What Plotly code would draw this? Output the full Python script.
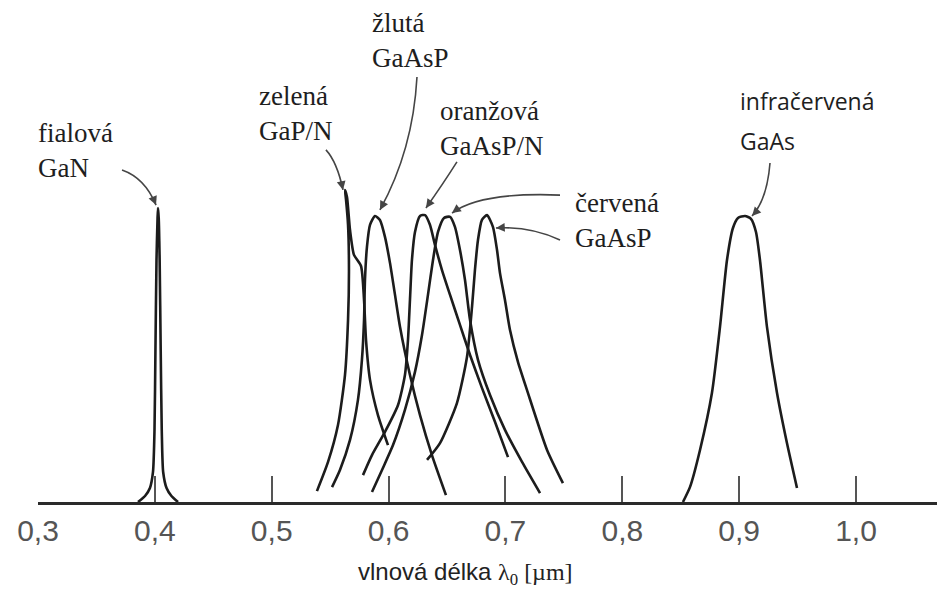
import plotly.graph_objects as go

# ---- data: wavelength (um) and relative intensity ----
tick_vals = [0.3, 0.4, 0.5, 0.6, 0.7, 0.8, 0.9, 1.0]
tick_text = ["0,3", "0,4", "0,5", "0,6", "0,7", "0,8", "0,9", "1,0"]

gan_x = [0.3856, 0.3916, 0.3958, 0.3984, 0.3997, 0.4005, 0.4014, 0.4023, 0.4027,
         0.4033, 0.4041, 0.4050, 0.4059, 0.4071, 0.4100, 0.4142, 0.4198]
gan_y = [0.000, 0.021, 0.049, 0.105, 0.252, 0.531, 0.846, 0.993, 1.028,
         0.993, 0.846, 0.531, 0.252, 0.105, 0.049, 0.021, 0.000]

gapn_x = [0.5387, 0.5482, 0.5567, 0.5627, 0.5653, 0.5661, 0.5653, 0.5636, 0.5627,
          0.5644, 0.5670, 0.5704, 0.5764, 0.5790, 0.5807, 0.5841, 0.5909, 0.5995]
gapn_y = [0.038, 0.140, 0.269, 0.444, 0.636, 0.811, 0.969, 1.056, 1.091,
          1.066, 0.951, 0.864, 0.825, 0.706, 0.566, 0.427, 0.304, 0.199]

yel_x = [0.5516, 0.5584, 0.5670, 0.5738, 0.5772, 0.5790, 0.5798, 0.5815, 0.5841, 0.5884,
         0.5926, 0.5969, 0.6012, 0.6055, 0.6098, 0.6183, 0.6269, 0.6371, 0.6491]
yel_y = [0.052, 0.112, 0.217, 0.357, 0.497, 0.636, 0.776, 0.892, 0.969, 1.000,
         0.986, 0.927, 0.836, 0.724, 0.612, 0.444, 0.304, 0.164, 0.024]

ora_x = [0.5781, 0.5858, 0.5969, 0.6081, 0.6140, 0.6166, 0.6183, 0.6200, 0.6226, 0.6269, 0.6312,
         0.6354, 0.6397, 0.6457, 0.6526, 0.6611, 0.6697, 0.6799, 0.6911, 0.7022]
ora_y = [0.094, 0.164, 0.245, 0.339, 0.444, 0.566, 0.706, 0.846, 0.944, 1.000, 1.003,
         0.969, 0.899, 0.811, 0.724, 0.619, 0.514, 0.399, 0.280, 0.157]

red1_x = [0.5858, 0.5944, 0.6038, 0.6140, 0.6226, 0.6286, 0.6337, 0.6380, 0.6423, 0.6474, 0.6526,
          0.6568, 0.6611, 0.6654, 0.6697, 0.6765, 0.6868, 0.6996, 0.7142, 0.7296]
red1_y = [0.035, 0.112, 0.199, 0.322, 0.455, 0.584, 0.724, 0.846, 0.944, 0.993, 0.997,
          0.962, 0.881, 0.776, 0.636, 0.497, 0.374, 0.252, 0.140, 0.031]

red2_x = [0.6329, 0.6440, 0.6585, 0.6671, 0.6714, 0.6739, 0.6765, 0.6799, 0.6842,
          0.6893, 0.6928, 0.6953, 0.6996, 0.7039, 0.7107, 0.7184, 0.7356, 0.7492]
red2_y = [0.147, 0.206, 0.346, 0.507, 0.682, 0.811, 0.916, 0.986, 1.003,
          0.962, 0.881, 0.801, 0.706, 0.601, 0.490, 0.392, 0.182, 0.066]

ir_x = [0.8519, 0.8579, 0.8665, 0.8767, 0.8836, 0.8896, 0.8947, 0.8990, 0.9050,
        0.9101, 0.9144, 0.9178, 0.9238, 0.9324, 0.9409, 0.9495]
ir_y = [0.000, 0.052, 0.182, 0.381, 0.612, 0.846, 0.958, 0.993, 1.000,
        0.990, 0.944, 0.846, 0.612, 0.381, 0.206, 0.049]

series = [
    ("fialová GaN", gan_x, gan_y),
    ("zelená GaP/N", gapn_x, gapn_y),
    ("žlutá GaAsP", yel_x, yel_y),
    ("oranžová GaAsP/N", ora_x, ora_y),
    ("červená GaAsP (1)", red1_x, red1_y),
    ("červená GaAsP (2)", red2_x, red2_y),
    ("infračervená GaAs", ir_x, ir_y),
]

LINE = "#1c1c1c"
ARROW = "#454545"
SERIF = "Liberation Serif"
SANS = "Liberation Sans"
OSANS = "Open Sans"

fig = go.Figure()
for name, xs, ys in series:
    fig.add_trace(go.Scatter(
        x=xs, y=ys, mode="lines", name=name, showlegend=False,
        line=dict(color=LINE, width=2.6, shape="spline", smoothing=0.6),
        hoverinfo="skip"))

# ---- labels (text, x, y, xshift, font family, size) ----
labels = [
    ("fialová<br>GaN", 0.3, 1.350, -2, SERIF, 27),
    ("zelená<br>GaP/N", 0.4874, 1.480, 0, SERIF, 27),
    ("žlutá<br>GaAsP", 0.5841, 1.734, 0, SERIF, 27),
    ("oranžová<br>GaAsP/N", 0.6423, 1.427, 0, SERIF, 27),
    ("červená<br>GaAsP", 0.7578, 1.105, 0, SERIF, 27),
    ("infračervená", 0.8990, 1.465, 0, OSANS, 23),
    ("GaAs", 0.8990, 1.325, 0, OSANS, 23),
]
for txt, x, y, xs, fam, size in labels:
    fig.add_annotation(x=x, y=y, xref="x", yref="y", xshift=xs, text=txt, showarrow=False,
                       xanchor="left", yanchor="top", align="left",
                       font=dict(family=fam, size=size, color="#1e1e1e"))

# ---- curved arrows: (start, control, tip, head offset px) ----
arrows = [
    ((0.3719, 1.161), (0.3916, 1.133), (0.4010, 1.038), (-3.8, -9.3)),
    ((0.5464, 1.231), (0.5559, 1.189), (0.5610, 1.091), (-2.1, -9.8)),
    ((0.6243, 1.486), (0.6209, 1.231), (0.5926, 1.021), (4.8, -8.8)),
    ((0.6585, 1.189), (0.6466, 1.112), (0.6320, 1.028), (5.8, -8.2)),
    ((0.7467, 1.073), (0.6782, 1.084), (0.6543, 1.010), (8.0, -6.0)),
    ((0.7467, 0.916), (0.7210, 0.965), (0.6919, 0.958), (10.0, -0.6)),
    ((0.9264, 1.185), (0.9238, 1.056), (0.9110, 1.000), (6.8, -7.3)),
]
for (x0, y0), (xc, yc), (x1, y1), (ax, ay) in arrows:
    fig.add_shape(type="path", xref="x", yref="y",
                  path=f"M {x0},{y0} Q {xc},{yc} {x1},{y1}",
                  line=dict(color=ARROW, width=1.6))
    fig.add_annotation(x=x1, y=y1, xref="x", yref="y", ax=ax, ay=ay, text="",
                       showarrow=True, arrowhead=2, arrowsize=1.1, arrowwidth=1.6,
                       arrowcolor=ARROW, standoff=0)

# ---- axis title ----
fig.add_annotation(
    x=0.476, y=-0.143, xref="paper", yref="paper", showarrow=False,
    xanchor="center", yanchor="middle",
    text="vlnová délka <span style='font-family:Liberation Serif'>λ<sub>0</sub> [µm]</span>",
    font=dict(family=SANS, size=24, color="#222"))

fig.update_xaxes(range=[0.3, 1.0693], tickvals=tick_vals, ticktext=tick_text,
                 ticks="inside", ticklen=26, tickwidth=1.5, tickcolor="#555",
                 showline=True, linewidth=2.6, linecolor="#2a2a2a",
                 showgrid=False, zeroline=False,
                 tickfont=dict(family=SANS, size=30, color="#555555"))
fig.update_yaxes(range=[0, 1.755], visible=False, showgrid=False, zeroline=False)

fig.update_layout(width=937, height=591,
                  margin=dict(l=38, r=0, t=0, b=89),
                  plot_bgcolor="white", paper_bgcolor="white",
                  showlegend=False)

fig.write_html("out.html")
